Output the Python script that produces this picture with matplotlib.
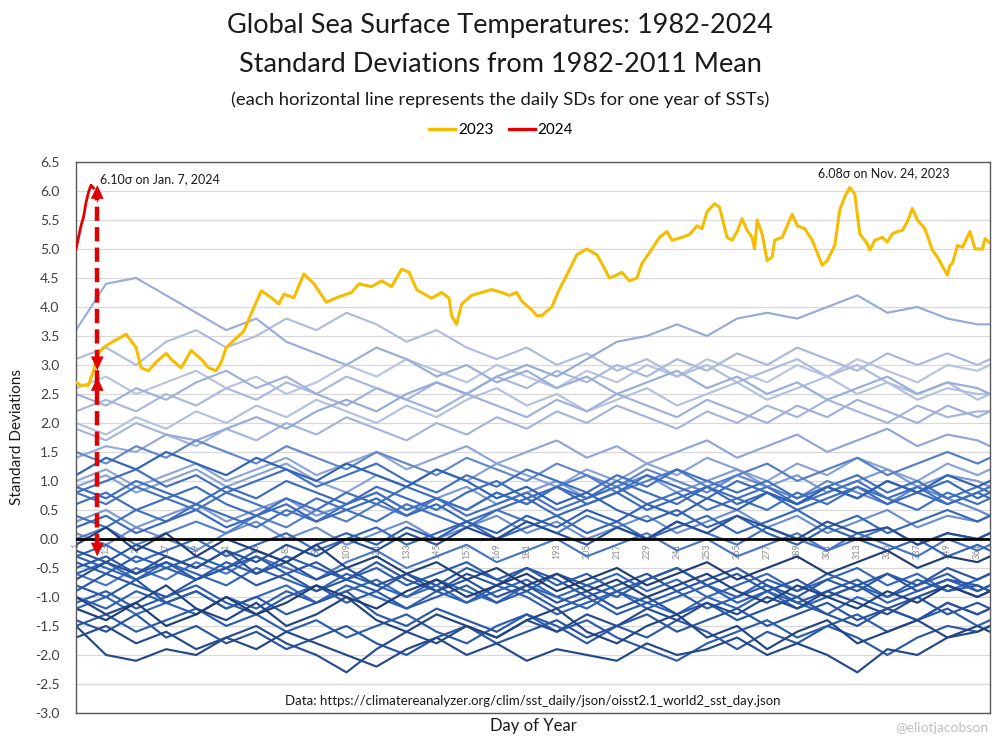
import numpy as np
import matplotlib
matplotlib.use("Agg")
import matplotlib.pyplot as plt
from matplotlib.colors import LinearSegmentedColormap
from matplotlib.lines import Line2D

plt.rcParams['font.family'] = ['Lato', 'DejaVu Sans']

# ---------------- data ----------------
key_days = [1, 13, 25, 37, 49, 61, 73, 85, 97, 109, 121, 133, 145, 157, 169, 181,
            193, 205, 217, 229, 241, 253, 265, 277, 289, 301, 313, 325, 337, 349, 361, 366]

y1982 = [-1.2,-1.4,-1.1,-1.5,-1.3,-1.0,-1.3,-1.1,-0.8,-1.0,-1.2,-0.9,-0.7,-1.0,-0.8,-0.6,-0.9,-0.7,-0.5,-0.8,-0.6,-0.4,-0.7,-0.5,-0.3,-0.6,-0.4,-0.2,-0.5,-0.3,-0.4,-0.3]
y1983 = [-0.1,0.2,-0.2,0.1,-0.3,0.0,-0.2,-0.4,-0.1,-0.5,-0.3,-0.6,-0.4,-0.7,-0.5,-0.8,-0.6,-0.9,-0.7,-1.0,-0.8,-0.6,-0.9,-1.1,-0.8,-1.0,-1.2,-0.9,-1.1,-0.8,-1.0,-0.9]
y1984 = [-1.0,-1.3,-1.1,-0.8,-1.2,-1.4,-1.1,-1.5,-1.3,-1.0,-1.4,-1.6,-1.3,-1.5,-1.7,-1.4,-1.2,-1.6,-1.8,-1.5,-1.3,-1.7,-1.5,-1.9,-1.6,-1.4,-1.8,-1.6,-1.4,-1.7,-1.5,-1.6]
y1985 = [-1.5,-2.0,-2.1,-1.9,-2.0,-1.7,-1.9,-1.6,-1.8,-2.0,-2.2,-1.9,-1.7,-2.0,-1.8,-2.1,-1.9,-2.0,-2.1,-1.8,-2.0,-1.9,-1.7,-2.0,-1.8,-2.0,-2.3,-1.9,-2.0,-1.7,-1.6,-1.5]
y1986 = [-1.7,-1.5,-1.8,-1.6,-1.9,-1.7,-1.5,-1.8,-2.0,-2.3,-1.9,-1.6,-1.8,-1.5,-1.7,-1.4,-1.6,-1.3,-1.5,-1.2,-1.4,-1.1,-1.3,-1.0,-1.2,-0.9,-1.1,-1.3,-1.0,-0.8,-1.0,-0.9]
y1987 = [-0.7,-0.4,-0.6,-0.3,-0.5,-0.2,-0.4,-0.1,-0.3,0.0,-0.2,0.1,-0.1,0.2,0.0,0.3,0.1,-0.1,0.2,0.0,0.3,0.1,0.4,0.2,0.0,0.3,0.1,0.2,-0.1,0.1,0.0,0.1]
y1988 = [-0.2,-0.4,-0.1,-0.3,-0.5,-0.2,-0.6,-0.4,-0.7,-0.5,-0.8,-0.6,-0.9,-0.7,-1.0,-0.8,-1.1,-0.9,-1.2,-1.0,-1.3,-1.1,-1.4,-1.2,-1.0,-1.3,-1.5,-1.2,-1.4,-1.1,-1.3,-1.2]
y1989 = [-1.4,-1.6,-1.3,-1.7,-1.5,-1.8,-1.6,-1.9,-1.7,-1.5,-1.8,-2.0,-1.7,-1.5,-1.8,-1.6,-1.4,-1.7,-1.5,-1.3,-1.6,-1.4,-1.2,-1.5,-1.3,-1.1,-1.4,-1.2,-1.0,-1.3,-1.1,-1.2]
y1990 = [-0.9,-0.6,-0.8,-1.0,-0.7,-0.5,-0.8,-0.6,-0.9,-0.7,-0.4,-0.7,-0.9,-0.6,-0.8,-0.5,-0.7,-1.0,-0.8,-0.6,-0.9,-0.7,-0.5,-0.8,-1.0,-0.7,-0.9,-0.6,-0.8,-0.5,-0.7,-0.6]
y1991 = [-0.5,-0.3,-0.6,-0.4,-0.7,-0.5,-0.3,-0.6,-0.4,-0.7,-0.9,-0.6,-0.8,-0.5,-0.7,-0.9,-0.6,-0.8,-1.0,-0.7,-0.5,-0.8,-0.6,-0.9,-0.7,-1.0,-0.8,-0.6,-0.9,-0.7,-0.8,-0.9]
y1992 = [-0.8,-1.0,-0.7,-1.1,-0.9,-1.2,-1.0,-1.3,-1.1,-0.9,-1.3,-1.5,-1.2,-1.4,-1.6,-1.3,-1.5,-1.8,-1.5,-1.7,-1.4,-1.6,-1.9,-1.6,-1.8,-1.5,-1.7,-2.0,-1.7,-1.5,-1.6,-1.5]
y1993 = [-1.5,-1.3,-1.6,-1.4,-1.2,-1.5,-1.3,-1.6,-1.4,-1.7,-1.5,-1.3,-1.6,-1.8,-1.5,-1.3,-1.6,-1.4,-1.7,-1.9,-2.1,-1.8,-1.6,-1.4,-1.7,-1.5,-1.3,-1.6,-1.4,-1.2,-1.5,-1.4]
y1994 = [-1.1,-0.9,-1.2,-1.0,-0.8,-1.1,-1.3,-1.0,-0.8,-1.1,-0.9,-1.2,-1.0,-0.8,-1.1,-0.9,-1.2,-1.0,-1.3,-1.1,-0.9,-1.2,-1.0,-0.8,-1.1,-0.9,-0.7,-1.0,-0.8,-0.6,-0.9,-0.8]
y1995 = [-0.4,-0.6,-0.3,-0.5,-0.7,-0.4,-0.6,-0.3,-0.5,-0.7,-0.5,-0.8,-0.6,-0.4,-0.7,-0.5,-0.8,-0.6,-0.9,-0.7,-0.5,-0.8,-1.0,-0.7,-0.9,-0.6,-0.8,-1.0,-0.7,-0.9,-0.8,-0.9]
y1996 = [-1.0,-1.2,-0.9,-1.1,-1.3,-1.0,-1.2,-0.9,-1.1,-0.8,-1.0,-1.2,-0.9,-1.1,-0.8,-1.0,-1.3,-1.1,-0.9,-1.2,-1.0,-0.8,-1.1,-0.9,-1.2,-1.0,-0.8,-1.1,-0.9,-0.7,-0.9,-0.8]
y1997 = [-0.6,-0.4,-0.7,-0.5,-0.3,-0.5,-0.2,-0.4,-0.1,0.1,-0.1,0.2,0.0,0.3,0.1,0.4,0.2,0.5,0.3,0.6,0.4,0.7,0.5,0.8,0.6,0.9,0.7,1.0,0.8,1.1,0.9,1.0]
y1998 = [1.1,1.4,1.2,1.5,1.3,1.1,1.4,1.2,1.0,1.3,1.1,0.9,1.2,1.0,0.7,0.9,0.6,0.8,0.5,0.3,0.5,0.2,0.4,0.1,-0.1,0.2,0.0,-0.2,0.0,-0.3,-0.1,-0.2]
y1999 = [-0.3,-0.5,-0.7,-0.4,-0.6,-0.8,-0.5,-0.7,-0.9,-0.6,-0.8,-1.0,-0.7,-0.9,-1.1,-0.8,-1.0,-1.2,-0.9,-1.1,-1.3,-1.0,-1.2,-0.9,-1.1,-1.3,-1.0,-1.2,-1.4,-1.1,-1.3,-1.2]
y2000 = [-1.2,-1.0,-1.3,-1.1,-0.9,-1.2,-1.0,-0.8,-1.1,-0.9,-0.7,-1.0,-0.8,-1.1,-0.9,-0.7,-1.0,-0.8,-0.6,-0.9,-0.7,-1.0,-0.8,-0.6,-0.9,-0.7,-0.5,-0.8,-0.6,-0.9,-0.7,-0.6]
y2001 = [-0.3,-0.1,-0.4,-0.2,0.0,-0.3,-0.1,0.1,-0.2,0.0,0.2,-0.1,0.1,0.3,0.0,0.2,0.4,0.1,0.3,0.0,0.2,0.4,0.1,0.3,0.5,0.2,0.4,0.1,0.3,0.5,0.3,0.4]
y2002 = [0.2,0.4,0.1,0.3,0.5,0.2,0.4,0.6,0.3,0.5,0.7,0.4,0.6,0.3,0.5,0.7,0.4,0.6,0.8,0.5,0.7,0.9,0.6,0.8,0.5,0.7,0.9,0.6,0.8,1.0,0.7,0.8]
y2003 = [0.9,0.7,1.0,0.8,0.6,0.9,0.7,1.0,0.8,0.6,0.9,0.7,0.5,0.8,1.0,0.7,0.9,0.6,0.8,1.1,0.9,0.7,1.0,0.8,0.6,0.9,0.7,1.0,0.8,0.6,0.8,0.7]
y2004 = [0.6,0.8,0.5,0.7,0.9,0.6,0.4,0.7,0.5,0.8,0.6,0.9,0.7,0.5,0.8,0.6,0.9,0.7,1.0,0.8,0.6,0.9,0.7,0.5,0.8,0.6,0.9,0.7,0.5,0.8,0.6,0.7]
y2005 = [0.8,1.0,1.2,0.9,1.1,0.8,1.0,1.2,0.9,1.1,1.3,1.0,0.8,1.1,0.9,1.2,1.0,0.8,1.1,0.9,1.2,1.0,0.8,1.0,0.7,0.9,1.1,0.8,1.0,0.7,0.9,0.8]
y2006 = [0.4,0.2,0.5,0.3,0.6,0.4,0.2,0.5,0.3,0.6,0.8,0.5,0.7,0.4,0.6,0.8,0.5,0.7,0.9,0.6,0.8,0.5,0.7,0.9,0.6,0.8,1.0,0.7,0.9,0.6,0.8,0.9]
y2007 = [0.8,0.6,0.9,0.7,0.5,0.8,0.6,0.4,0.7,0.5,0.3,0.6,0.4,0.2,0.5,0.3,0.1,0.4,0.2,0.0,0.3,0.1,-0.1,0.2,0.0,-0.2,0.1,-0.1,-0.3,0.0,-0.2,-0.1]
y2008 = [-0.6,-0.8,-0.5,-0.7,-0.4,-0.6,-0.3,-0.5,-0.7,-0.4,-0.2,-0.5,-0.3,-0.1,-0.4,-0.2,0.0,-0.3,-0.1,0.1,-0.2,0.0,-0.3,-0.1,0.1,-0.2,0.0,0.2,-0.1,0.1,0.0,0.1]
y2009 = [0.0,0.2,-0.1,0.1,0.3,0.1,0.4,0.2,0.5,0.3,0.6,0.4,0.7,0.5,0.8,0.6,0.9,1.1,0.8,1.0,1.2,0.9,1.1,1.3,1.0,1.2,1.4,1.1,1.3,1.5,1.3,1.4]
y2010 = [1.5,1.3,1.6,1.4,1.7,1.5,1.3,1.6,1.4,1.2,1.5,1.3,1.1,1.4,1.2,1.0,1.3,1.1,0.9,1.2,1.0,0.8,1.1,0.9,0.7,1.0,0.8,0.6,0.9,0.7,0.5,0.4]
y2011 = [0.1,-0.1,0.2,0.0,-0.2,0.1,0.3,0.0,0.2,-0.1,0.1,0.3,0.0,0.2,0.4,0.1,0.3,0.0,0.2,0.4,0.1,0.3,0.5,0.2,0.4,0.1,0.3,0.5,0.2,0.4,0.3,0.4]
y2012 = [0.3,0.5,0.2,0.4,0.6,0.3,0.5,0.7,0.4,0.6,0.8,0.5,0.7,0.9,0.6,0.8,1.0,0.7,0.9,1.1,0.8,1.0,1.2,0.9,1.1,0.8,1.0,1.2,0.9,1.1,1.0,0.9]
y2013 = [0.9,1.1,0.8,1.0,1.2,0.9,1.1,1.3,1.0,0.8,1.1,0.9,1.2,1.0,1.3,1.1,0.9,1.2,1.0,1.3,1.1,1.4,1.2,1.0,1.3,1.1,1.4,1.2,1.0,1.3,1.1,1.2]
y2014 = [1.0,1.2,0.9,1.1,1.3,1.0,1.2,1.4,1.1,1.3,1.5,1.2,1.4,1.6,1.3,1.5,1.7,1.4,1.6,1.3,1.5,1.7,1.4,1.6,1.8,1.5,1.7,1.9,1.6,1.8,1.7,1.6]
y2015 = [1.4,1.6,1.5,1.8,1.7,1.9,2.1,1.9,2.2,2.4,2.2,2.5,2.7,2.5,2.8,3.0,2.8,3.1,3.4,3.5,3.7,3.5,3.8,3.9,3.8,4.0,4.2,3.9,4.0,3.8,3.7,3.7]
y2016 = [3.6,4.4,4.5,4.2,3.9,3.6,3.8,3.4,3.2,3.0,3.3,3.1,2.8,3.0,2.7,2.9,2.6,2.8,2.5,2.7,2.9,2.6,2.8,2.5,2.7,2.4,2.6,2.8,2.5,2.7,2.6,2.5]
y2017 = [2.5,2.3,2.6,2.4,2.7,2.9,2.6,2.8,2.5,2.3,2.6,2.4,2.2,2.5,2.3,2.1,2.4,2.2,2.5,2.3,2.1,2.4,2.2,2.0,2.3,2.1,2.4,2.2,2.0,2.3,2.1,2.2]
y2018 = [1.9,1.7,2.0,1.8,1.6,1.9,1.7,2.0,1.8,2.1,1.9,1.7,2.0,1.8,2.1,1.9,2.2,2.0,2.3,2.1,1.9,2.2,2.0,2.3,2.1,2.4,2.2,2.0,2.3,2.1,2.2,2.2]
y2019 = [2.2,2.4,2.2,2.5,2.3,2.6,2.4,2.7,2.5,2.8,2.6,2.4,2.7,2.5,2.8,2.6,2.9,2.7,3.0,2.8,3.1,2.9,3.2,3.0,3.3,3.1,2.9,3.2,3.0,3.2,3.0,3.1]
y2020 = [3.1,3.3,3.0,3.4,3.6,3.3,3.5,3.8,3.6,3.9,3.7,3.4,3.6,3.3,3.1,3.3,3.0,3.2,2.9,3.1,2.8,3.0,2.7,2.9,3.1,2.8,3.0,2.7,2.5,2.7,2.4,2.5]
y2021 = [2.0,1.8,2.1,1.9,2.2,2.0,2.3,2.1,2.4,2.2,2.0,2.3,2.1,2.4,2.6,2.3,2.5,2.2,2.4,2.6,2.3,2.5,2.7,2.4,2.6,2.8,2.5,2.7,2.4,2.6,2.5,2.5]
y2022 = [2.6,2.8,2.5,2.7,2.9,2.6,2.8,2.5,2.7,3.0,2.8,3.1,2.9,2.7,3.0,2.8,2.6,2.9,2.7,3.0,2.8,3.1,2.9,2.7,3.0,2.8,3.1,2.9,2.7,3.0,2.9,3.0]

background_years = list(range(1982, 2023))
background_values = [y1982, y1983, y1984, y1985, y1986, y1987, y1988, y1989, y1990,
                     y1991, y1992, y1993, y1994, y1995, y1996, y1997, y1998, y1999,
                     y2000, y2001, y2002, y2003, y2004, y2005, y2006, y2007, y2008,
                     y2009, y2010, y2011, y2012, y2013, y2014, y2015, y2016, y2017,
                     y2018, y2019, y2020, y2021, y2022]

days_2023 = [1, 3, 6, 8, 10, 12, 16, 21, 25, 27, 30, 33, 37, 39, 43, 47, 51, 54, 57, 59,
             61, 68, 72, 75, 79, 82, 84, 88, 92, 96, 101, 105, 111, 114, 119, 123, 127,
             129, 131, 134, 137, 139, 143, 147, 150, 151, 153, 155, 159, 163, 167, 171,
             174, 177, 179, 183, 185, 187, 191, 194, 197, 201, 205, 209, 211, 214, 217,
             219, 222, 225, 227, 231, 234, 237, 239, 243, 246, 249, 251, 253, 256, 258,
             261, 263, 265, 267, 269, 271, 272, 273, 275, 277, 279, 280, 283, 287, 289,
             292, 295, 299, 301, 304, 306, 308, 310, 312, 314, 317, 318, 320, 323, 325,
             327, 329, 331, 333, 335, 337, 340, 343, 345, 349, 350, 351, 353, 355, 358,
             360, 363, 364, 366]
sd_2023 = [2.70, 2.65, 2.65, 2.90, 3.20, 3.30, 3.41, 3.53, 3.30, 2.95, 2.90, 3.05, 3.20,
           3.10, 2.95, 3.25, 3.10, 2.95, 2.90, 3.05, 3.30, 3.58, 3.99, 4.28, 4.16, 4.05,
           4.22, 4.16, 4.57, 4.40, 4.08, 4.16, 4.25, 4.40, 4.35, 4.45, 4.35, 4.50, 4.65,
           4.60, 4.30, 4.25, 4.15, 4.25, 4.15, 3.85, 3.70, 4.05, 4.20, 4.25, 4.30, 4.25,
           4.20, 4.25, 4.10, 3.95, 3.85, 3.85, 4.00, 4.30, 4.55, 4.90, 5.00, 4.90, 4.75,
           4.50, 4.55, 4.60, 4.45, 4.50, 4.75, 5.00, 5.20, 5.30, 5.15, 5.20, 5.25, 5.40,
           5.35, 5.64, 5.78, 5.72, 5.20, 5.15, 5.30, 5.52, 5.32, 5.20, 5.00, 5.50, 5.26,
           4.80, 4.86, 5.15, 5.20, 5.60, 5.40, 5.35, 5.15, 4.72, 4.80, 5.06, 5.67, 5.90,
           6.06, 5.95, 5.26, 5.09, 4.98, 5.15, 5.20, 5.12, 5.26, 5.30, 5.32, 5.47, 5.70,
           5.50, 5.35, 4.98, 4.86, 4.55, 4.72, 4.75, 5.06, 5.03, 5.30, 5.00, 5.00, 5.18,
           5.10]

days_2024 = [1, 2, 3, 4, 5, 6, 7, 8]
sd_2024 = [5.00, 5.20, 5.40, 5.55, 5.80, 5.98, 6.10, 6.05]

y_ticks = [6.5, 6.0, 5.5, 5.0, 4.5, 4.0, 3.5, 3.0, 2.5, 2.0, 1.5, 1.0, 0.5, 0.0,
           -0.5, -1.0, -1.5, -2.0, -2.5, -3.0]
x_tick_days = list(range(1, 367, 12))

peak_2024_label = "6.10σ on Jan. 7, 2024"
peak_2023_label = "6.08σ on Nov. 24, 2023"
arrow_top = 6.10
arrow_mid = 2.85
arrow_low = -0.30
arrow_day = 9.5

# ---------------- figure ----------------
fig = plt.figure(figsize=(10, 7.45), dpi=100)
ax = fig.add_axes([0.076, 0.043, 0.914, 0.7396])

cmap = LinearSegmentedColormap.from_list(
    "yrs", [(0.0, "#203d74"), (0.15, "#2853a0"), (0.40, "#2f63b8"),
            (0.65, "#4775c6"), (0.78, "#8aa3d6"), (1.0, "#b8c3df")])
n = len(background_years)
for i in range(n - 1, -1, -1):
    ax.plot(key_days, background_values[i], color=cmap(i / (n - 1)),
            lw=1.55, zorder=2, solid_joinstyle='round')

ax.axhline(0, color='black', lw=2.0, zorder=6)

ax.plot(days_2023, sd_2023, color='#f5bd00', lw=2.2, zorder=8,
        solid_joinstyle='round')
ax.plot(days_2024, sd_2024, color='#e00000', lw=2.0, zorder=9)

# dashed red double arrows
red = '#e00000'
ax.plot([arrow_day, arrow_day], [arrow_low + 0.15, arrow_top - 0.15], color=red,
        lw=3.2, ls=(0, (3.2, 1.4)), zorder=10)
for tip, tail in [(arrow_top, arrow_top - 0.3), (arrow_mid + 0.06, arrow_mid + 0.36),
                  (arrow_mid - 0.06, arrow_mid - 0.36), (arrow_low, arrow_low + 0.3)]:
    ax.annotate('', xy=(arrow_day, tip), xytext=(arrow_day, tail),
                arrowprops=dict(arrowstyle='-|>,head_length=0.9,head_width=0.42',
                                color=red, lw=0.5, shrinkA=0, shrinkB=0),
                zorder=11)

# category labels along the zero line
for d in x_tick_days:
    ax.text(d, -0.07, str(d), rotation=90, ha='center', va='top', fontsize=6.5,
            color='#8c8c8c', zorder=1)

ax.set_xlim(1, 366)
ax.set_ylim(-3.0, 6.5)
ax.set_yticks(y_ticks)
ax.set_yticklabels([f"{v:.1f}" for v in y_ticks])
ax.set_xticks([])
ax.tick_params(axis='y', length=0, pad=12, labelsize=10, labelcolor='#404040')
ax.grid(axis='y', color='#d9d9d9', lw=0.9, zorder=0)
ax.set_axisbelow(True)
for s in ax.spines.values():
    s.set_color('#595959')
    s.set_linewidth(1.0)

ax.set_ylabel("Standard Deviations", fontsize=11, color='#1a1a1a', labelpad=8)

ax.text(10.6, 6.2, peak_2024_label, fontsize=9, va='center', ha='left',
        color='#1a1a1a', zorder=12)
ax.text(297.5, 6.31, peak_2023_label, fontsize=9, va='center', ha='left',
        color='#1a1a1a', zorder=12)

ax.text(0.5, -2.79, "Data: https://climatereanalyzer.org/clim/sst_daily/json/oisst2.1_world2_sst_day.json",
        transform=ax.get_yaxis_transform(), ha='center', va='center', fontsize=9.5,
        color='#1a1a1a', zorder=12)

fig.text(0.533, 1 - 726 / 745, "Day of Year", ha='center', va='center', fontsize=12,
         color='#1a1a1a')
fig.text(0.988, 1 - 728 / 745, "@eliotjacobson", ha='right', va='center',
         fontsize=10, color='#bfbfbf')

fig.text(0.5, 1 - 25 / 745, "Global Sea Surface Temperatures: 1982-2024",
         ha='center', va='center', fontsize=19.5, color='#1a1a1a')
fig.text(0.5, 1 - 65 / 745, "Standard Deviations from 1982-2011 Mean",
         ha='center', va='center', fontsize=19.5, color='#1a1a1a')
fig.text(0.5, 1 - 100 / 745,
         "(each horizontal line represents the daily SDs for one year of SSTs)",
         ha='center', va='center', fontsize=13.3, color='#1a1a1a')

handles = [Line2D([], [], color='#f5bd00', lw=2.4), Line2D([], [], color='#e00000', lw=2.4)]
fig.legend(handles, ['2023', '2024'], loc='center', bbox_to_anchor=(0.501, 1 - 130 / 745),
           ncol=2, frameon=False, fontsize=11, handlelength=1.7, handletextpad=0.2,
           columnspacing=1.0)

fig.savefig("out.png", dpi=100)
